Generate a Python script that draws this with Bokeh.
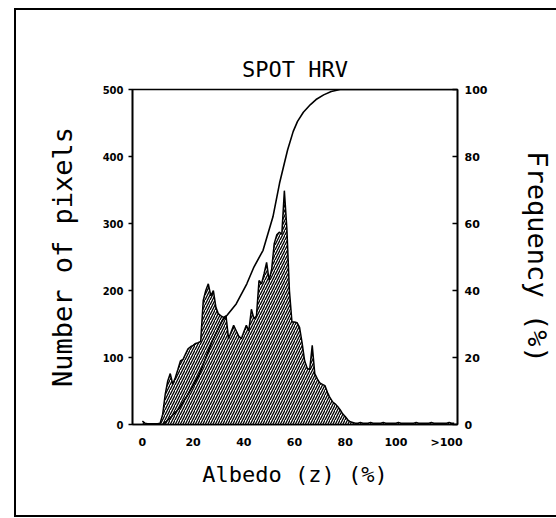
from bokeh.plotting import figure
from bokeh.models import Range1d, LinearAxis, FixedTicker, ColumnDataSource
from bokeh.embed import file_html
from bokeh.resources import INLINE

# ---- data ----
albedo = list(range(0, 124))
pixels = ([5, 2, 1, 1, 1, 1, 1, 2] +
          [15, 45, 65, 76, 60, 70, 82, 95, 97, 105, 113, 116, 118, 121, 122, 124] +
          [185, 200, 210, 192, 200, 175, 165, 162, 160, 162] +
          [128, 138, 148, 140, 132, 128, 138, 148, 140, 172, 158, 162] +
          [215, 210, 225, 242, 215, 232, 270, 283, 287, 284, 349, 292] +
          [200, 153, 153, 152, 145, 122, 95, 84, 82] +
          [118, 76, 68, 62, 60, 58, 48, 40, 34, 31, 27, 22, 16, 12, 7, 4] +
          [3, 2, 2, 3, 2, 2, 2, 3, 2, 2, 2, 2, 3, 2, 2, 2, 2, 2, 3, 2, 2,
           2, 2, 2, 2, 3, 2, 2, 2, 2, 2, 3, 2, 2, 2, 2, 2, 2, 3, 2, 2])

cum_x = [0, 8, 11, 14.7, 18, 22.5, 27.6, 31.5, 33.4, 37, 41.2, 44, 47.6,
         51.5, 54.1, 56, 57.3, 59.5, 61.2, 63.5, 66.3, 68.5, 71.5, 74.5, 78, 124]
cum_pct = [0, 0, 2, 5, 9, 15, 25, 31, 32.6, 36, 42, 47, 52,
           62, 72, 78, 82, 87.5, 90.5, 93.2, 95.5, 97, 98.4, 99.4, 100, 100]

x_ticks = [0, 20, 40, 60, 80, 100, 120]
x_tick_labels = ["0", "20", "40", "60", "80", "100", ">100"]
left_ticks = [0, 100, 200, 300, 400, 500]
right_ticks = [0, 20, 40, 60, 80, 100]

MONO = "DejaVu Sans Mono"
TICKF = "DejaVu Sans"

p = figure(width=556, height=518, output_backend="svg", toolbar_location=None,
           x_range=Range1d(-3.9, 124.3), y_range=Range1d(0, 500),
           min_border_left=132, min_border_right=93, min_border_top=89,
           min_border_bottom=94, title="SPOT HRV")
# outer page frame (left, top, bottom lines) painted as the element background
p.styles = {
    "background-color": "white",
    "background-image": ("linear-gradient(#000,#000), linear-gradient(#000,#000), "
                         "linear-gradient(#000,#000)"),
    "background-size": "2px 509px, 560px 2px, 560px 2px",
    "background-position": "14px 8px, 14px 8px, 14px 515px",
    "background-repeat": "no-repeat",
}
p.extra_y_ranges = {"freq": Range1d(0, 100)}

p.grid.visible = False
p.outline_line_color = "black"
p.outline_line_width = 1.6
p.background_fill_color = "white"
p.border_fill_alpha = 0

p.title.align = "center"
p.title.text_font = MONO
p.title.text_font_size = "22px"
p.title.text_font_style = "normal"
p.title.text_color = "black"
p.title.standoff = 15

src = ColumnDataSource(dict(x=albedo, y=pixels))
p.varea(x="x", y1=0, y2="y", source=src, fill_color="white",
        hatch_pattern="/", hatch_color="black", hatch_scale=5, hatch_weight=1.3)
p.line(x="x", y="y", source=src, line_color="black", line_width=1.5)

p.line(cum_x, cum_pct, y_range_name="freq", line_color="black", line_width=1.6)

# bottom axis
xa = p.xaxis[0]
xa.ticker = FixedTicker(ticks=x_ticks)
xa.major_label_overrides = {t: l for t, l in zip(x_ticks, x_tick_labels)}
xa.major_tick_out = 0
xa.major_tick_in = 0
xa.minor_tick_out = 0
xa.minor_tick_in = 0
xa.major_label_standoff = 11
xa.axis_label = "Albedo (z) (%)"
xa.axis_label_standoff = 10

# left axis
ya = p.yaxis[0]
ya.ticker = FixedTicker(ticks=left_ticks)
ya.major_tick_out = 4
ya.major_tick_in = 0
ya.minor_tick_out = 0
ya.minor_tick_in = 0
ya.major_label_standoff = 5
ya.axis_label = "Number of pixels"
ya.axis_label_standoff = 22

# right axis
ra = LinearAxis(y_range_name="freq", ticker=FixedTicker(ticks=right_ticks),
                axis_label="Frequency (%)")
ra.major_tick_out = 0
ra.major_tick_in = 5
ra.minor_tick_out = 0
ra.minor_tick_in = 0
ra.major_label_standoff = 7
ra.axis_label_standoff = 32
p.add_layout(ra, "right")

for ax in [xa, ya, ra]:
    ax.axis_line_color = "black"
    ax.axis_line_width = 1.6
    ax.major_tick_line_color = "black"
    ax.major_tick_line_width = 1.5
    ax.major_label_text_font = TICKF
    ax.major_label_text_font_style = "bold"
    ax.major_label_text_font_size = "11px"
    ax.major_label_text_color = "black"
    ax.axis_label_text_font = MONO
    ax.axis_label_text_font_style = "normal"
    ax.axis_label_text_color = "black"
xa.axis_label_text_font_size = "22px"
ya.axis_label_text_font_size = "27px"
ra.axis_label_text_font_size = "27px"
ya.major_label_text_font_size = "10px"

open("out.html", "w").write(file_html(p, INLINE))
